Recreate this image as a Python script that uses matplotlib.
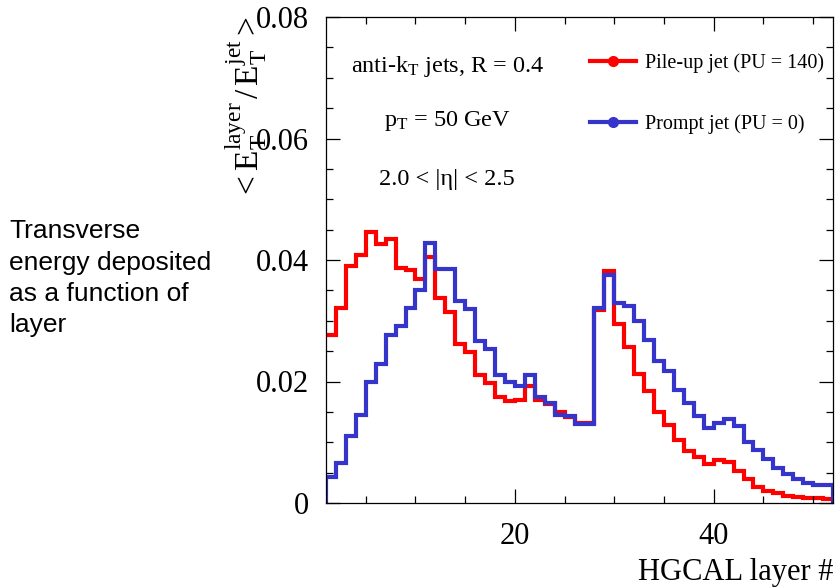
import numpy as np
import matplotlib
matplotlib.use('Agg')
import matplotlib.pyplot as plt
from matplotlib.lines import Line2D
from matplotlib.ticker import MultipleLocator, FuncFormatter

plt.rcParams['font.family'] = ['Liberation Serif', 'DejaVu Serif']
plt.rcParams['mathtext.fontset'] = 'custom'
plt.rcParams['mathtext.rm'] = 'Liberation Serif'
plt.rcParams['mathtext.it'] = 'Liberation Serif:italic'

# 層ごとのビン (layer 1..51)
layer_edges = np.arange(1, 53)

# パイルアップジェット (PU = 140)
pileup = [0.0277, 0.0321, 0.0390, 0.0409, 0.0446, 0.0427, 0.0434, 0.0387, 0.0383, 0.0369,
          0.0405, 0.0338, 0.0314, 0.0262, 0.0248, 0.0210, 0.0198, 0.0175, 0.0168, 0.0170,
          0.0193, 0.0169, 0.0163, 0.0149, 0.0142, 0.0132, 0.0131, 0.0318, 0.0382, 0.0295,
          0.0257, 0.0213, 0.0184, 0.0150, 0.0129, 0.0104, 0.0085, 0.0076, 0.0064, 0.0071,
          0.0068, 0.0052, 0.0039, 0.0027, 0.0020, 0.0016, 0.0012, 0.0010, 0.0009, 0.0008,
          0.0007]

# プロンプトジェット (PU = 0)
prompt = [0.0042, 0.0066, 0.0111, 0.0145, 0.0199, 0.0229, 0.0276, 0.0291, 0.0321, 0.0350,
          0.0428, 0.0386, 0.0386, 0.0333, 0.0319, 0.0267, 0.0254, 0.0210, 0.0200, 0.0192,
          0.0211, 0.0175, 0.0165, 0.0145, 0.0143, 0.0130, 0.0130, 0.0321, 0.0376, 0.0330,
          0.0324, 0.0299, 0.0269, 0.0234, 0.0218, 0.0186, 0.0164, 0.0143, 0.0123, 0.0132,
          0.0138, 0.0127, 0.0101, 0.0087, 0.0072, 0.0057, 0.0048, 0.0039, 0.0033, 0.0030,
          0.0030]

RED = '#ff0000'
BLUE = '#3535cc'

W, H = 835, 587
fig = plt.figure(figsize=(W / 100, H / 100), dpi=100)
ax = fig.add_axes([326 / W, 1 - 503 / H, (833 - 326) / W, (503 - 17) / H])

ax.stairs(pileup, layer_edges, baseline=None, color=RED, lw=3)
ax.stairs(prompt, layer_edges, baseline=0, color=BLUE, lw=3)

ax.set_xlim(1, 52)
ax.set_ylim(0, 0.08)
ax.xaxis.set_major_locator(MultipleLocator(20))
ax.xaxis.set_minor_locator(MultipleLocator(5))
ax.yaxis.set_major_locator(MultipleLocator(0.02))
ax.yaxis.set_minor_locator(MultipleLocator(0.005))
ax.yaxis.set_major_formatter(FuncFormatter(lambda v, p: '0' if abs(v) < 1e-9 else f'{v:.2f}'))
ax.tick_params(which='both', direction='in', top=True, right=True, width=0.9, labelsize=22)
ax.tick_params(which='major', length=10)
ax.tick_params(which='minor', length=5)
ax.tick_params(axis='x', pad=14)
ax.tick_params(axis='y', pad=12)
for s in ax.spines.values():
    s.set_linewidth(0.9)

# 注釈
ax.text(448 / W, 1 - 72 / H, r'anti-k$_\mathrm{T}$ jets, R = 0.4', transform=fig.transFigure,
        ha='center', va='baseline', fontsize=17.5)
ax.text(447 / W, 1 - 126 / H, r'p$_\mathrm{T}$ = 50 GeV', transform=fig.transFigure,
        ha='center', va='baseline', fontsize=17.5)
ax.text(447 / W, 1 - 185 / H, '2.0 < |η| < 2.5', transform=fig.transFigure,
        ha='center', va='baseline', fontsize=17.5)

handles = [Line2D([], [], color=RED, lw=3, marker='o', markersize=7),
           Line2D([], [], color=BLUE, lw=3, marker='o', markersize=7)]
fig.legend(handles, ['Pile-up jet (PU = 140)', 'Prompt jet (PU = 0)'],
           loc='upper left', bbox_to_anchor=(590 / W, 1 - 53 / H), frameon=False,
           fontsize=14.5, handlelength=2.3, handletextpad=0.45, labelspacing=2.05,
           borderpad=0, borderaxespad=0)

fig.text(833 / W, 1 - 580 / H, 'HGCAL layer #', ha='right', va='baseline', fontsize=22)
fig.text(246 / W, 1 - 16 / H,
         r'$<\mathrm{E}_\mathrm{T}^\mathrm{layer}\,/\,\mathrm{E}_\mathrm{T}^\mathrm{jet}>$',
         rotation=90, ha='center', va='top', fontsize=24)

fig.text(9 / W, 1 - 332 / H, 'Transverse\nenergy deposited\nas a function of\nlayer',
         family='Liberation Sans', fontsize=19, ha='left', va='baseline', linespacing=1.38)

fig.savefig('out.png', dpi=100)
